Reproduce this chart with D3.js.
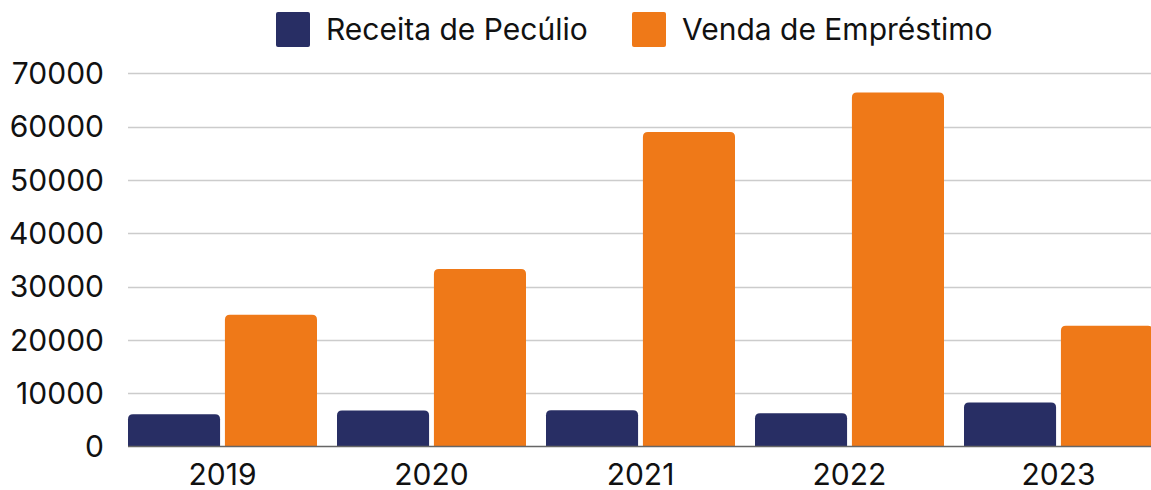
<!DOCTYPE html>
<html>
<head>
<meta charset="utf-8">
<script src="https://cdn.jsdelivr.net/npm/d3@7"></script>
<style>
  body { margin: 0; background: #fff; }
  text { font-family: Inter, "Noto Sans", sans-serif; fill: #111; }
</style>
</head>
<body>
<div id="chart"></div>
<script>
// data
var years = ['2019', '2020', '2021', '2022', '2023'];
var seriesNames = ['Receita de Pecúlio', 'Venda de Empréstimo'];
var receita = [6050, 6750, 6800, 6250, 8250];
var venda = [24700, 33300, 59000, 66400, 22650];
var yTicks = [0, 10000, 20000, 30000, 40000, 50000, 60000, 70000];
var colors = ['#282e64', '#ef7918'];

var w = 1151, h = 490;
var plotLeft = 128, plotTop = 73.3, plotBottom = 446.5;
var fontSize = '30px';

var svg = d3.select('#chart').append('svg')
  .attr('width', w)
  .attr('height', h);

var y = d3.scaleLinear().domain([0, 70000]).range([plotBottom, plotTop]);

var x = d3.scaleBand()
  .domain(years)
  .range([plotLeft, plotLeft + 5 * 209 - 20])
  .paddingInner(20 / 209)
  .paddingOuter(0);

var xs = d3.scaleBand()
  .domain(seriesNames)
  .range([0, x.bandwidth()])
  .paddingInner(0.05);

// gridlines
svg.append('g').selectAll('line')
  .data(yTicks.slice(1))
  .join('line')
  .attr('x1', plotLeft).attr('x2', w)
  .attr('y1', function(d) { return Math.round(y(d)) + 0.5; })
  .attr('y2', function(d) { return Math.round(y(d)) + 0.5; })
  .attr('stroke', '#cccccc')
  .attr('stroke-width', 1.3);

// y labels
svg.append('g').selectAll('text')
  .data(yTicks)
  .join('text')
  .attr('x', 104)
  .attr('y', function(d) { return y(d); })
  .attr('dy', '0.36em')
  .attr('text-anchor', 'end')
  .style('font-size', fontSize)
  .text(function(d) { return d; });

// rounded-top bar path
function barPath(x0, y0, bw, y1) {
  var r = Math.min(5, (y1 - y0) / 2);
  return 'M' + x0 + ',' + y1 +
    'V' + (y0 + r) +
    'Q' + x0 + ',' + y0 + ' ' + (x0 + r) + ',' + y0 +
    'H' + (x0 + bw - r) +
    'Q' + (x0 + bw) + ',' + y0 + ' ' + (x0 + bw) + ',' + (y0 + r) +
    'V' + y1 + 'Z';
}

var rows = [];
years.forEach(function(yr, i) {
  rows.push({ year: yr, s: seriesNames[0], v: receita[i], c: colors[0] });
  rows.push({ year: yr, s: seriesNames[1], v: venda[i], c: colors[1] });
});

svg.append('g').selectAll('path')
  .data(rows)
  .join('path')
  .attr('d', function(d) {
    return barPath(x(d.year) + xs(d.s), y(d.v), xs.bandwidth(), y(0));
  })
  .attr('fill', function(d) { return d.c; });

// baseline
svg.append('line')
  .attr('x1', plotLeft).attr('x2', w)
  .attr('y1', plotBottom).attr('y2', plotBottom)
  .attr('stroke', '#666')
  .attr('stroke-width', 1.3);

// x labels
svg.append('g').selectAll('text')
  .data(years)
  .join('text')
  .attr('x', function(d) { return x(d) + x.bandwidth() / 2; })
  .attr('y', 485)
  .attr('text-anchor', 'middle')
  .style('font-size', fontSize)
  .text(function(d) { return d; });

// legend
var legendX = [276, 632];
var lg = svg.append('g').selectAll('g')
  .data(seriesNames)
  .join('g')
  .attr('transform', function(d, i) { return 'translate(' + legendX[i] + ',0)'; });

lg.append('rect')
  .attr('x', 0).attr('y', 12)
  .attr('width', 34).attr('height', 35)
  .attr('rx', 2)
  .attr('fill', function(d, i) { return colors[i]; });

lg.append('text')
  .attr('x', 50).attr('y', 40)
  .style('font-size', fontSize)
  .text(function(d) { return d; });
</script>
</body>
</html>
